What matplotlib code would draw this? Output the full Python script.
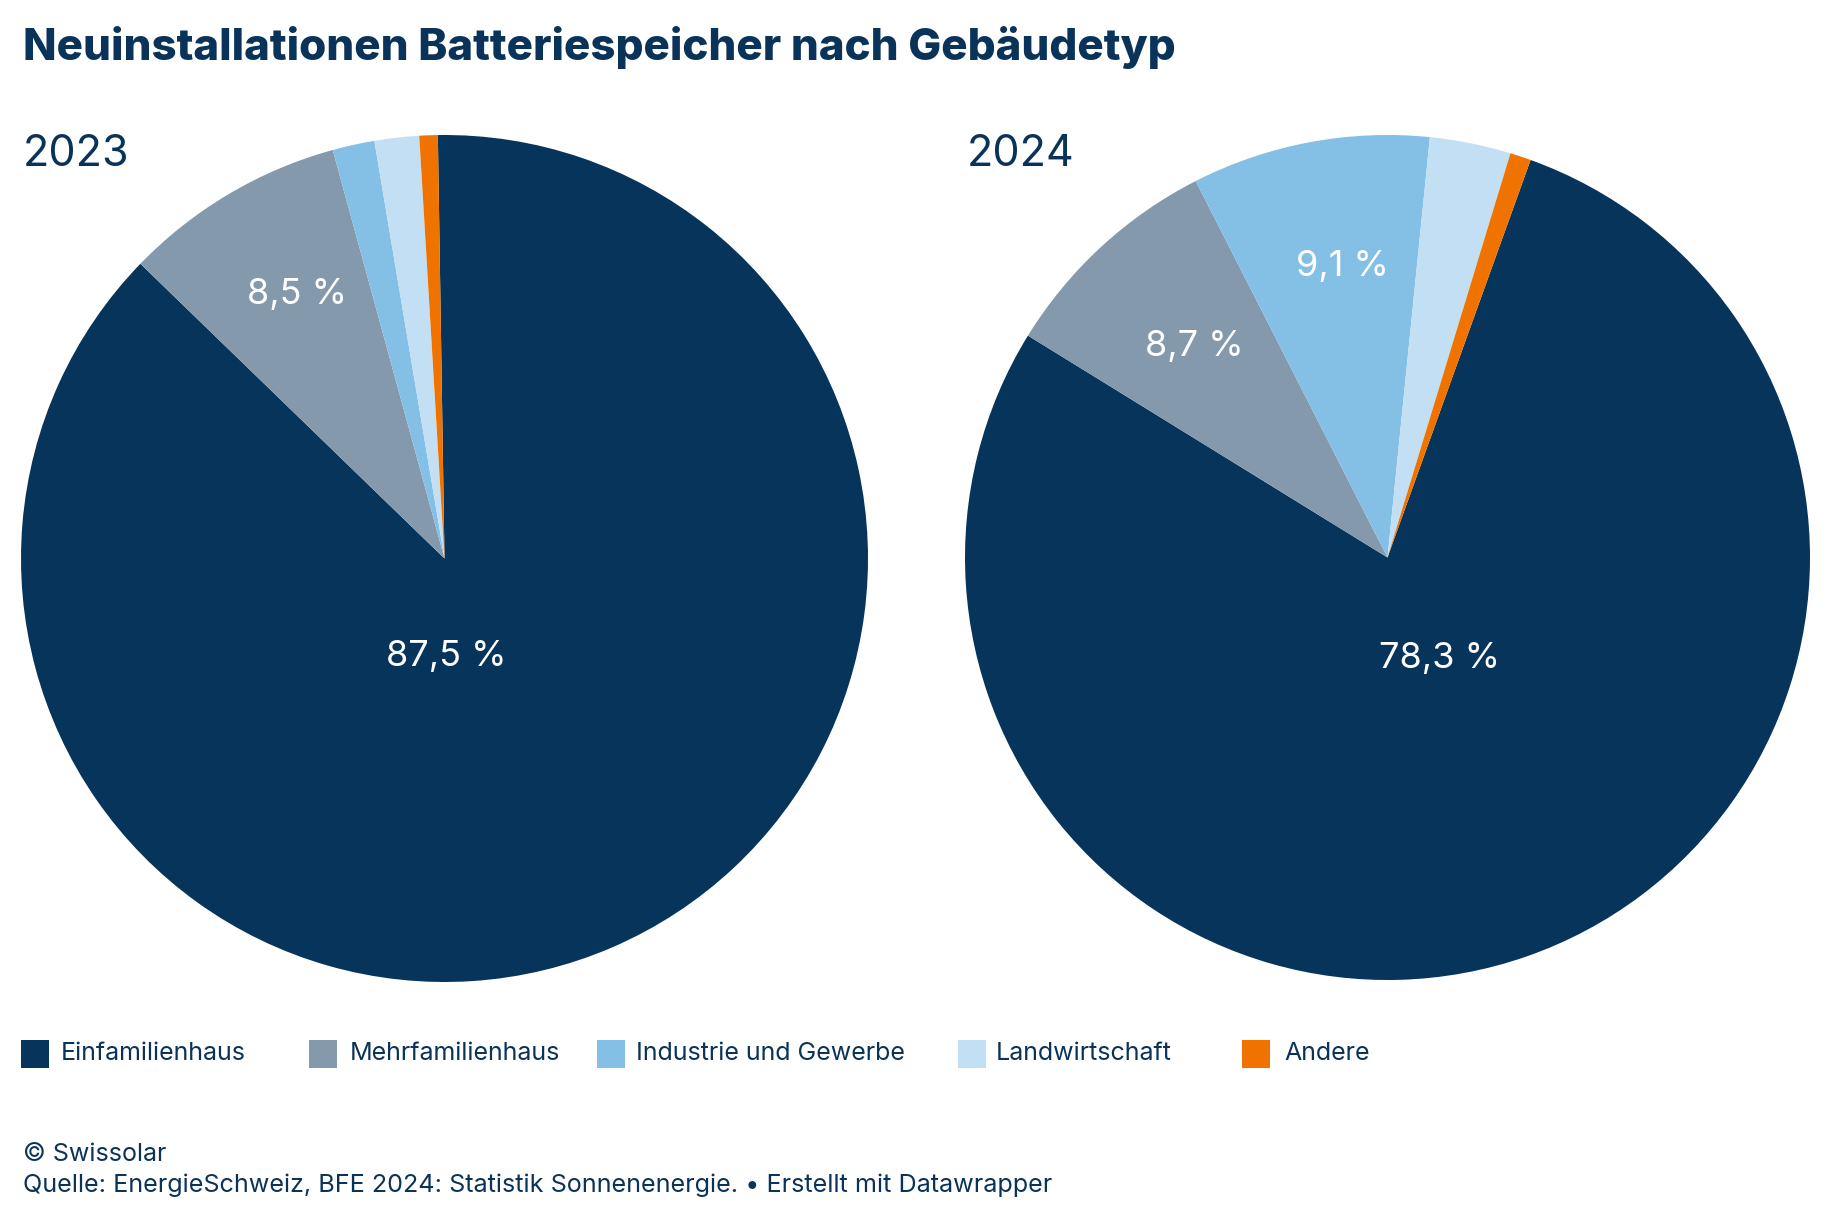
import matplotlib
matplotlib.use("Agg")
import matplotlib.pyplot as plt
from matplotlib.patches import Rectangle

plt.rcParams['font.family'] = ['Inter', 'DejaVu Sans']

# data
categories = ["Einfamilienhaus", "Mehrfamilienhaus", "Industrie und Gewerbe",
              "Landwirtschaft", "Andere"]
years = ["2023", "2024"]
shares_2023 = [87.5, 8.5, 1.6, 1.7, 0.7]
shares_2024 = [78.3, 8.7, 9.1, 3.1, 0.8]

colors = ["#06345a", "#8599ad", "#84bfe6", "#c3dff4", "#f07300"]
navy = "#0a3359"

W, H = 1832, 1220
fig = plt.figure(figsize=(W / 100, H / 100), dpi=100)


def fx(px):
    return px / W


def fy(py):
    return 1 - py / H


# pie boxes in pixels: left, top, size
boxes = [(21, 135, 847), (965, 135, 845)]
starts = [90.9, 70.2]
# label offsets (in radius units) per year, per category
label_pos = [
    {0: (0.005, -0.254), 1: (-0.348, 0.600)},
    {0: (0.122, -0.262), 1: (-0.457, 0.478), 2: (-0.107, 0.667)},
]

for k, vals in enumerate([shares_2023, shares_2024]):
    left, top, size = boxes[k]
    ax = fig.add_axes([fx(left), fy(top + size), size / W, size / H])
    ax.pie(vals, colors=colors, startangle=starts[k], counterclock=False,
           radius=1, wedgeprops=dict(linewidth=0, antialiased=True))
    ax.set_xlim(-1, 1)
    ax.set_ylim(-1, 1)
    ax.set_aspect('auto')
    ax.axis('off')
    for i, (x, y) in label_pos[k].items():
        txt = f"{vals[i]:.1f}".replace(".", ",") + " %"
        ax.text(x, y, txt, color="white", fontsize=26, ha="center",
                va="baseline")
    fig.text(fx(left + 2), fy(166.5), years[k], color=navy, fontsize=31,
             ha="left", va="baseline")

fig.text(fx(23), fy(60), "Neuinstallationen Batteriespeicher nach Gebäudetyp",
         color=navy, fontsize=31.6, fontweight="heavy", ha="left", va="baseline")

# legend
sq_x = [21, 309, 597, 958, 1242]
txt_x = [61, 350, 636, 996, 1284]
for i, name in enumerate(categories):
    fig.patches.append(Rectangle((fx(sq_x[i]), fy(1068)), 28 / W, 28 / H,
                                 transform=fig.transFigure, figure=fig,
                                 facecolor=colors[i], edgecolor="none"))
    fig.text(fx(txt_x[i]), fy(1060.5), name, color=navy, fontsize=18,
             ha="left", va="baseline")

fig.text(fx(23), fy(1161), "© Swissolar", color=navy, fontsize=18,
         ha="left", va="baseline")
fig.text(fx(23), fy(1192), "Quelle: EnergieSchweiz, BFE 2024: Statistik Sonnenenergie. • Erstellt mit Datawrapper",
         color=navy, fontsize=18.1, ha="left", va="baseline")

fig.savefig("out.png", dpi=100, facecolor="white")
